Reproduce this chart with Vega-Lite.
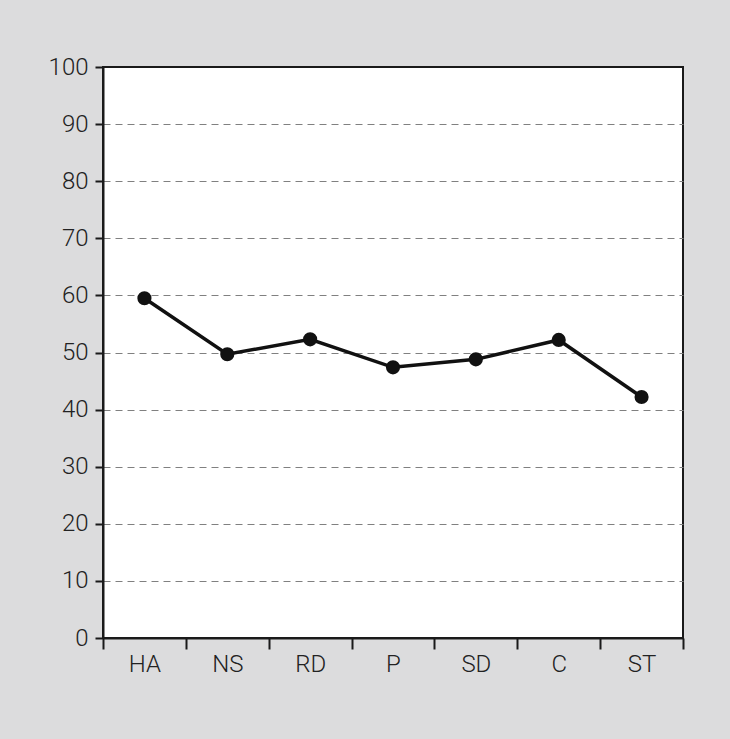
{
  "$schema": "https://vega.github.io/schema/vega-lite/v6.json",
  "autosize": {"type": "none"},
  "padding": {"left": 103, "top": 67, "right": 47, "bottom": 101},
  "width": 580,
  "height": 571,
  "background": "#dcdcdd",
  "data": {
    "values": [
      {"scale": "HA", "value": 59.5},
      {"scale": "NS", "value": 49.7},
      {"scale": "RD", "value": 52.3},
      {"scale": "P", "value": 47.4},
      {"scale": "SD", "value": 48.8},
      {"scale": "C", "value": 52.2},
      {"scale": "ST", "value": 42.2}
    ]
  },
  "config": {
    "view": {"fill": "white", "stroke": "#1a1a1a", "strokeWidth": 2},
    "axis": {
      "labelFont": "Roboto",
      "labelFontWeight": 300,
      "labelFontSize": 24,
      "labelColor": "#222222",
      "domainColor": "#1a1a1a",
      "domainWidth": 2,
      "tickColor": "#1a1a1a",
      "tickWidth": 2,
      "title": null
    }
  },
  "encoding": {
    "x": {
      "field": "scale",
      "type": "nominal",
      "sort": null,
      "scale": {"paddingInner": 0, "paddingOuter": 0},
      "axis": {"labelAngle": 0, "tickBand": "extent", "tickSize": 11, "labelPadding": 3, "grid": false}
    },
    "y": {
      "field": "value",
      "type": "quantitative",
      "scale": {"domain": [0, 100], "nice": false},
      "axis": {
        "values": [0, 10, 20, 30, 40, 50, 60, 70, 80, 90, 100],
        "tickSize": 8,
        "labelPadding": 7,
        "grid": true,
        "gridColor": "#808080",
        "gridDash": [7, 5],
        "gridWidth": 1,
        "gridOpacity": {"condition": {"test": "datum.value == 0 || datum.value == 100", "value": 0}, "value": 1}
      }
    }
  },
  "layer": [
    {"mark": {"type": "line", "color": "#111111", "strokeWidth": 3.5}},
    {"mark": {"type": "point", "filled": true, "color": "#111111", "opacity": 1, "size": 200}}
  ]
}
